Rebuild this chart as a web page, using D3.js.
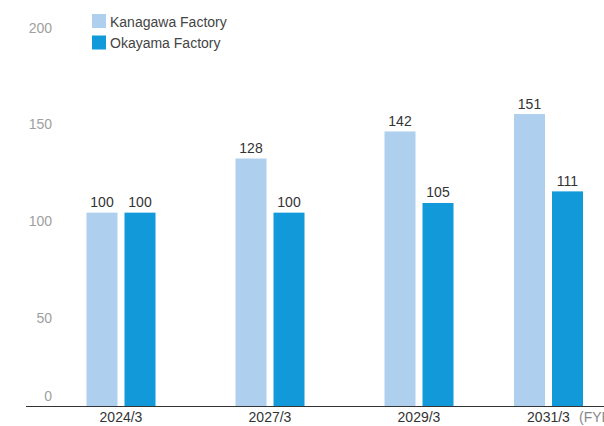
<!DOCTYPE html>
<html>
<head>
<meta charset="utf-8">
<script src="https://cdn.jsdelivr.net/npm/d3@7"></script>
<style>
  body { margin: 0; background: #fff; }
  svg { display: block; font-family: "Liberation Sans", Arial, Helvetica, sans-serif; }
</style>
</head>
<body>
<div id="chart"></div>
<script>
// Production capacity index (FY2024/3 = 100)
var years = ['2024/3', '2027/3', '2029/3', '2031/3'],
    kanagawa = [100, 128, 142, 151],
    okayama = [100, 100, 105, 111],
    seriesNames = ['Kanagawa Factory', 'Okayama Factory'],
    seriesColors = ['#aed0ee', '#1199d9'],
    yTicks = [0, 50, 100, 150, 200];

var width = 604,
    height = 426,
    baseline = 406,
    barWidth = 31,
    barGap = 7;

var svg = d3.select('#chart').append('svg')
  .attr('width', width)
  .attr('height', height);

var y = d3.scaleLinear()
  .domain([0, 200])
  .range([baseline, 19.3]);

// group centres are not evenly spaced in the original
var x = d3.scaleOrdinal()
  .domain(years)
  .range([121, 270, 419, 548.5]);

// offset of each series from the group centre
var offset = d3.scaleOrdinal()
  .domain([0, 1])
  .range([-(barWidth + barGap / 2), barGap / 2]);

var rows = years.map(function(year, i) {
  return [
    {year: year, s: 0, value: kanagawa[i]},
    {year: year, s: 1, value: okayama[i]}
  ];
});

// y tick labels (the 0 label sits above the axis line)
svg.append('g').selectAll('text')
  .data(yTicks)
  .enter().append('text')
    .attr('x', 52)
    .attr('y', function(d) { return d === 0 ? y(d) - 5 : y(d) + 13.5; })
    .attr('text-anchor', 'end')
    .attr('font-size', 14)
    .attr('fill', '#a0a0a0')
    .text(function(d) { return d; });

var groups = svg.append('g').selectAll('g')
  .data(rows)
  .enter().append('g');

var bars = groups.selectAll('g')
  .data(function(d) { return d; })
  .enter().append('g');

bars.append('rect')
  .attr('x', function(d) { return x(d.year) + offset(d.s); })
  .attr('y', function(d) { return y(d.value); })
  .attr('width', barWidth)
  .attr('height', function(d) { return baseline - y(d.value); })
  .attr('fill', function(d) { return seriesColors[d.s]; });

bars.append('text')
  .attr('x', function(d) { return x(d.year) + offset(d.s) + barWidth / 2; })
  .attr('y', function(d) { return y(d.value) - 5.5; })
  .attr('text-anchor', 'middle')
  .attr('font-size', 14)
  .attr('fill', '#333')
  .text(function(d) { return d.value; });

// x axis
svg.append('line')
  .attr('x1', 26)
  .attr('x2', width)
  .attr('y1', baseline + 0.5)
  .attr('y2', baseline + 0.5)
  .attr('stroke', '#333')
  .attr('stroke-width', 1);

svg.append('g').selectAll('text')
  .data(years)
  .enter().append('text')
    .attr('x', function(d) { return x(d); })
    .attr('y', baseline + 16)
    .attr('text-anchor', 'middle')
    .attr('font-size', 14)
    .attr('fill', '#333')
    .text(function(d) { return d; });

svg.append('text')
  .attr('x', 579)
  .attr('y', baseline + 16)
  .attr('font-size', 14)
  .attr('fill', '#888')
  .text('(FYE)');

// legend
var legend = svg.append('g').selectAll('g')
  .data(seriesNames)
  .enter().append('g')
    .attr('transform', function(d, i) { return 'translate(92,' + (14 + i * 21.5) + ')'; });

legend.append('rect')
  .attr('width', 14)
  .attr('height', 14)
  .attr('fill', function(d, i) { return seriesColors[i]; });

legend.append('text')
  .attr('x', 18)
  .attr('y', 12.5)
  .attr('font-size', 14)
  .attr('fill', '#444')
  .text(function(d) { return d; });
</script>
</body>
</html>
